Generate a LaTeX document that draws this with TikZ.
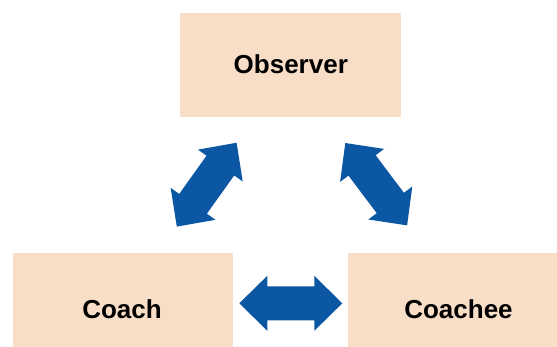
\documentclass[tikz,border=0pt]{standalone}
\usepackage{fontspec}
\setmainfont{Liberation Sans}
\definecolor{boxfill}{HTML}{F8DEC6}
\definecolor{arrowblue}{HTML}{0C57A3}
\tikzset{
  rolebox/.style={fill=boxfill, draw=none},
  rolelabel/.style={anchor=base, inner sep=0pt, font=\bfseries\fontsize{26}{30}\selectfont},
  dblarrow/.style={fill=arrowblue, draw=none}
}
\newcommand{\dblarrowpath}{(-51.5,0) -- (-23.5,27.5) -- (-23.5,17) -- (23.5,17) -- (23.5,27.5) -- (51.5,0) -- (23.5,-27.5) -- (23.5,-17) -- (-23.5,-17) -- (-23.5,-27.5) -- cycle}
\begin{document}
\begin{tikzpicture}[x=1pt,y=-1pt]
\useasboundingbox (0,0) rectangle (557,347);
\begin{scope}
\clip (0,0) rectangle (557,347);
\fill[rolebox] (180,12.7) rectangle (401,116.7);
\fill[rolebox] (12.8,252.8) rectangle (233,360);
\fill[rolebox] (348,252.8) rectangle (569,360);
\end{scope}
\node[rolelabel] (observer) at (290.8,74) {Observer};
\node[rolelabel] (coach) at (122,319) {Coach};
\node[rolelabel] (coachee) at (458.5,319) {Coachee};
\begin{scope}[shift={(206.7,184.7)}, rotate=54.5]
\fill[dblarrow] \dblarrowpath;
\end{scope}
\begin{scope}[shift={(376.2,184.2)}, rotate=-53.1]
\fill[dblarrow] \dblarrowpath;
\end{scope}
\begin{scope}[shift={(290.8,303.3)}]
\fill[dblarrow] \dblarrowpath;
\end{scope}
\end{tikzpicture}
\end{document}
